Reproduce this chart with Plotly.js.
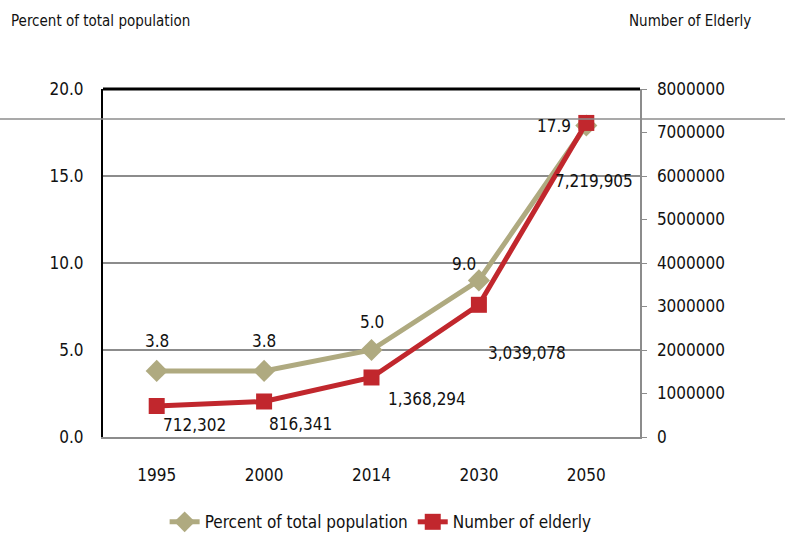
<!DOCTYPE html>
<html>
<head>
<meta charset="utf-8">
<script src="https://cdn.plot.ly/plotly-3.0.1.min.js"></script>
<style>html,body{margin:0;padding:0;background:#fff;}#chart{width:788px;height:537px;}</style>
</head>
<body>
<div id="chart"></div>
<script>
const years = ['1995', '2000', '2014', '2030', '2050'];
const percentTotal = [3.8, 3.8, 5.0, 9.0, 17.9];
const numberElderly = [712302, 816341, 1368294, 3039078, 7219905];
const percentLabels = ['3.8', '3.8', '5.0', '9.0', '17.9'];
const numberLabels = ['712,302', '816,341', '1,368,294', '3,039,078', '7,219,905'];

const FONT = '"DejaVu Sans Condensed", "Liberation Sans Narrow", "DejaVu Sans", sans-serif';
const khaki = '#AFAA80';
const red = '#C1272D';

const traces = [
  {
    x: years, y: percentTotal, name: 'Percent of total population',
    type: 'scatter', mode: 'lines+markers', yaxis: 'y',
    line: {color: khaki, width: 5},
    marker: {symbol: 'diamond', size: 17, color: khaki}
  },
  {
    x: years, y: numberElderly, name: 'Number of elderly',
    type: 'scatter', mode: 'lines+markers', yaxis: 'y2',
    line: {color: red, width: 5},
    marker: {symbol: 'square', size: 16, color: red}
  }
];

// label offsets (pixels, +y = down) for each point
const pOff = [[0, -30], [0, -30], [0, -28], [-15, -16], [-32, 0]];
const nOff = [[38, 19], [36, 23], [55, 22], [48, 48], [8, 58]];

const annotations = [];
years.forEach((yr, i) => {
  annotations.push({x: i, y: percentTotal[i], xref: 'x', yref: 'y', text: percentLabels[i],
    showarrow: false, xshift: pOff[i][0], yshift: -pOff[i][1],
    font: {family: FONT, size: 17, color: '#111'}});
  annotations.push({x: i, y: numberElderly[i], xref: 'x', yref: 'y2', text: numberLabels[i],
    showarrow: false, xshift: nOff[i][0], yshift: -nOff[i][1],
    font: {family: FONT, size: 17, color: '#111'}});
});
annotations.push({xref: 'paper', yref: 'paper', x: -0.175, y: 1.195, xanchor: 'left', yanchor: 'middle',
  text: 'Percent of total population', showarrow: false, font: {family: FONT, size: 15, color: '#111'}});
annotations.push({xref: 'paper', yref: 'paper', x: 0.975, y: 1.195, xanchor: 'left', yanchor: 'middle',
  text: 'Number of Elderly', showarrow: false, font: {family: FONT, size: 15, color: '#111'}});

const layout = {
  width: 788, height: 537,
  margin: {l: 103, r: 148, t: 89, b: 100, autoexpand: false},
  paper_bgcolor: '#fff', plot_bgcolor: '#fff',
  font: {family: FONT, size: 17, color: '#111'},
  showlegend: true,
  legend: {orientation: 'h', x: 0.517, xanchor: 'center', y: -0.245, yanchor: 'middle',
    font: {family: FONT, size: 17, color: '#111'}, itemwidth: 30, tracegroupgap: 0},
  xaxis: {
    type: 'category', range: [-0.5, 4.5], showgrid: false, zeroline: false,
    showline: true, linecolor: '#8c8c8c', linewidth: 2,
    ticks: '', ticklabelstandoff: 22, tickfont: {family: FONT, size: 17, color: '#111'}
  },
  yaxis: {
    range: [0, 20], dtick: 5, tickformat: '.1f', showgrid: true, gridcolor: '#8c8c8c', gridwidth: 1.5,
    zeroline: false, showline: true, linecolor: '#000', linewidth: 2,
    ticks: '', ticklabelstandoff: 14, tickfont: {family: FONT, size: 17, color: '#111'}
  },
  yaxis2: {
    overlaying: 'y', side: 'right', range: [0, 8000000], dtick: 1000000, tickformat: 'd',
    showgrid: false, zeroline: false, showline: true, linecolor: '#8c8c8c', linewidth: 1.5,
    ticks: 'outside', ticklen: 5, tickcolor: '#8c8c8c', ticklabelstandoff: 7,
    tickfont: {family: FONT, size: 17, color: '#111'}
  },
  shapes: [
    {type: 'line', xref: 'paper', yref: 'paper', x0: 0, x1: 1, y0: 1, y1: 1,
      line: {color: '#000', width: 3}},
    {type: 'line', xref: 'paper', yref: 'paper', x0: -0.192, x1: 1.27, y0: 0.914, y1: 0.914,
      line: {color: '#8c8c8c', width: 1.5}}
  ],
  annotations: annotations
};

Plotly.newPlot('chart', traces, layout, {displayModeBar: false, staticPlot: true});
</script>
</body>
</html>
